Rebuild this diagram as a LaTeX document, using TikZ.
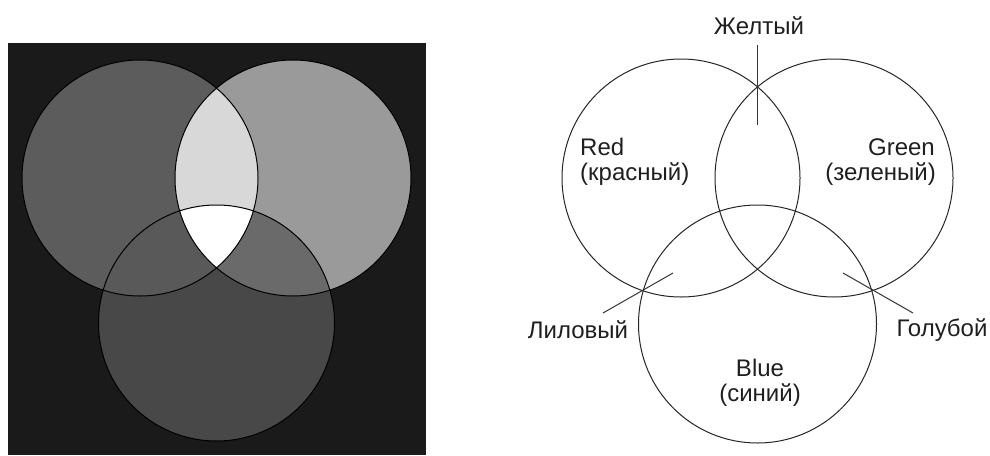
\documentclass[tikz,border=0pt]{standalone}
\usepackage{fontspec}
\setmainfont{Liberation Sans}
\begin{document}
\begin{tikzpicture}[x=1pt,y=-1pt,
  lbl/.style={font=\fontsize{24}{28}\selectfont, inner sep=0pt, text=black!88},
  ring/.style={draw=black!85, line width=1pt},
  lead/.style={draw=black!80, line width=1pt}]
\definecolor{bgdark}{HTML}{1A1A1A}
\definecolor{cR}{HTML}{5C5C5C}
\definecolor{cG}{HTML}{9A9A9A}
\definecolor{cB}{HTML}{484848}
\definecolor{cRB}{HTML}{595959}
\definecolor{cGB}{HTML}{6A6A6A}
\definecolor{cRG}{HTML}{D8D8D8}
\useasboundingbox (0,0) rectangle (990,455);
% ---------- left panel ----------
\def\rr{118}
\fill[bgdark] (8,43) rectangle (426,455);
\coordinate (LR) at (140,178);
\coordinate (LG) at (293,178);
\coordinate (LB) at (216.5,323);
\fill[cR] (LR) circle[radius=\rr];
\fill[cG] (LG) circle[radius=\rr];
\fill[cB] (LB) circle[radius=\rr];
\begin{scope}
  \clip (LG) circle[radius=\rr];
  \fill[cGB] (LB) circle[radius=\rr];
\end{scope}
\begin{scope}
  \clip (LR) circle[radius=\rr];
  \fill[cRG] (LG) circle[radius=\rr];
  \fill[cRB] (LB) circle[radius=\rr];
  \clip (LG) circle[radius=\rr];
  \fill[white] (LB) circle[radius=\rr];
\end{scope}
\draw[black, line width=1pt] (LR) circle[radius=\rr] (LG) circle[radius=\rr] (LB) circle[radius=\rr];
% ---------- right panel ----------
\def\RR{119}
\coordinate (RR) at (681,178);
\coordinate (RG) at (834,178);
\coordinate (RB) at (757.5,324);
\draw[ring] (RR) circle[radius=\RR];
\draw[ring] (RG) circle[radius=\RR];
\draw[ring] (RB) circle[radius=\RR];
\node[lbl, anchor=west] (red) at (580,147) {Red};
\node[lbl, anchor=west] (redr) at (580,174) {(красный)};
\node[lbl, anchor=east] (green) at (935,147) {Green};
\node[lbl, anchor=east] (greenr) at (936,174) {(зеленый)};
\node[lbl] (blue) at (760,368) {Blue};
\node[lbl] (bluer) at (760,395) {(синий)};
\node[lbl] (yel) at (759,26) {Желтый};
\node[lbl] (lil) at (578,330) {Лиловый};
\node[lbl] (gol) at (942,330) {Голубой};
\coordinate (y1) at (757.5,45);
\coordinate (y2) at (757.5,125);
\coordinate (l1) at (603,313);
\coordinate (l2) at (673,273);
\coordinate (g1) at (913,313);
\coordinate (g2) at (843,273);
\draw[lead] (y1) -- (y2);
\draw[lead] (l1) -- (l2);
\draw[lead] (g1) -- (g2);
\end{tikzpicture}
\end{document}
